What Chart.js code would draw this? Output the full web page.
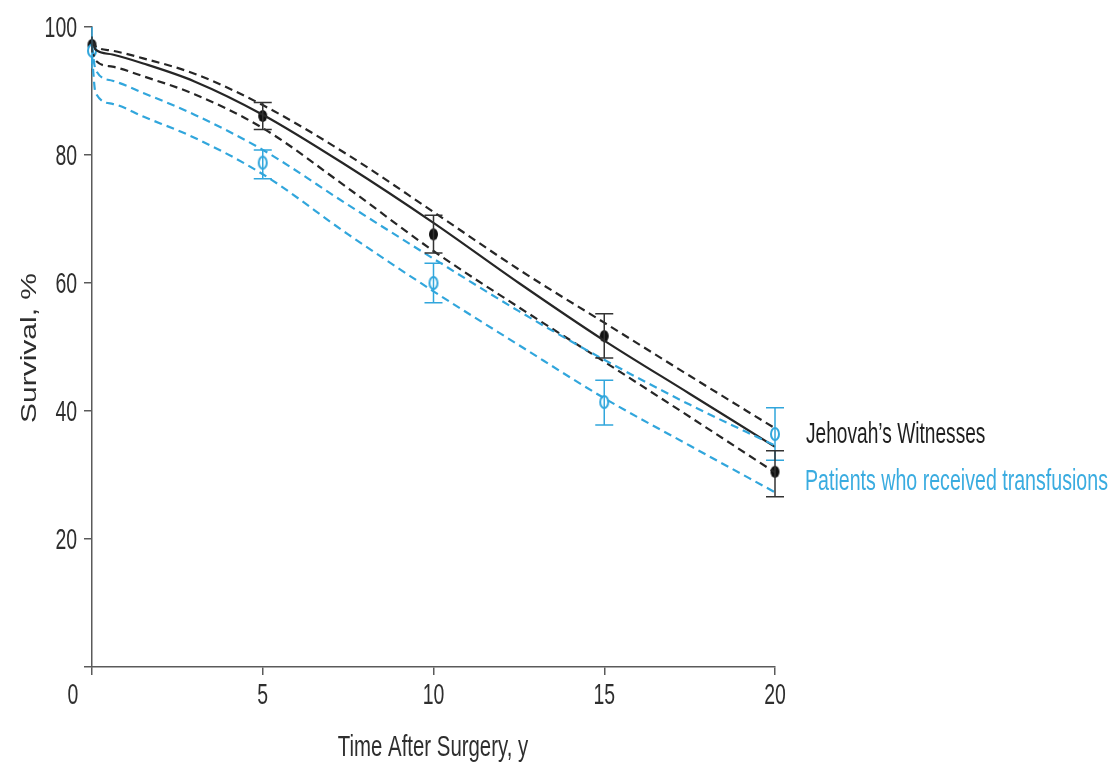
<!DOCTYPE html>
<html>
<head>
<meta charset="utf-8">
<script src="https://cdn.jsdelivr.net/npm/chart.js@4"></script>
<style>
  html, body { margin: 0; padding: 0; background: #fff; }
  #wrap { width: 1114px; height: 771px; position: relative; }
</style>
</head>
<body>
<div id="wrap"><canvas id="c" width="1114" height="771"></canvas></div>
<script>
// Observed survival at each follow-up year, with error-bar limits
const years = [0, 5, 10, 15, 20];
const jwSurvival = [97.2, 86.1, 67.6, 51.7, 30.5];
const jwLow      = [96.0, 84.0, 64.7, 48.3, 26.6];
const jwHigh     = [98.5, 88.2, 70.6, 55.2, 33.8];
const txSurvival = [96.3, 78.8, 60.0, 41.4, 36.4];
const txLow      = [93.5, 76.3, 56.9, 37.8, 32.3];
const txHigh     = [100,  80.8, 63.1, 44.8, 40.5];

// Fitted survival curves and their confidence bands
const curveYears = [0, 0.1, 0.6, 1.5, 3, 5, 7.5, 10, 12.5, 15, 17.5, 20];
const jwFit      = [97.5, 96.5, 95.7, 94.3, 91.5, 86.3, 78.2, 69.4, 60.0, 51.0, 42.7, 34.4];
const jwFitUpper = [97.9, 97.0, 96.3, 95.1, 92.7, 87.8, 80.0, 71.1, 62.1, 53.8, 45.5, 37.3];
const jwFitLower = [96.6, 94.8, 93.8, 92.3, 89.5, 84.2, 74.8, 65.0, 56.2, 47.7, 39.1, 30.4];
const txFitUpper = [97.0, 93.4, 91.6, 89.7, 86.3, 80.8, 72.2, 63.8, 55.6, 48.0, 41.0, 34.6];
const txFitLower = [95.5, 89.8, 88.0, 86.0, 82.7, 77.0, 67.6, 58.7, 50.3, 42.0, 34.6, 27.3];

const xTicks = [0, 5, 10, 15, 20];
const yTicks = [20, 40, 60, 80, 100];
const seriesNames = ["Jehovah\u2019s Witnesses", "Patients who received transfusions"];

const BLACK = '#262626';
const BLUE = '#31a6dc';
const AXIS = '#5a5a5a';
const FONT = '"Liberation Sans", Arial, sans-serif';

const pts = (xs, ys) => xs.map((x, i) => ({ x, y: ys[i] }));

// Oval marker sprites (slightly taller than wide)
function ovalMarker(w, h, fill, stroke, lw) {
  const c = document.createElement('canvas');
  c.width = w + 4; c.height = h + 4;
  const g = c.getContext('2d');
  g.beginPath();
  g.ellipse(c.width / 2, c.height / 2, w / 2, h / 2, 0, 0, Math.PI * 2);
  if (fill) { g.fillStyle = fill; g.fill(); }
  if (stroke) { g.strokeStyle = stroke; g.lineWidth = lw; g.stroke(); }
  return c;
}
const jwMarker = ovalMarker(9, 12, '#111111', null, 0);
const txMarker = ovalMarker(8, 12, '#ffffff', BLUE, 2);

function curve(data, color, dashed, width) {
  return {
    type: 'line', data, borderColor: color, borderWidth: width,
    borderDash: dashed ? [8, 5] : [], pointRadius: 0, fill: false,
    cubicInterpolationMode: 'monotone', clip: false
  };
}
function markers(data, sprite) {
  return {
    type: 'line', data, showLine: false, pointStyle: sprite,
    pointRadius: 6, clip: false
  };
}

// Error bars drawn from the low/high arrays through the chart's scales
const errorBars = {
  id: 'errorBars',
  afterDatasetsDraw(chart) {
    const { ctx, scales: { x, y } } = chart;
    const sets = [
      { lo: txLow, hi: txHigh, color: BLUE },
      { lo: jwLow, hi: jwHigh, color: '#333333' }
    ];
    ctx.save();
    sets.forEach(s => {
      ctx.strokeStyle = s.color;
      ctx.lineWidth = 1.5;
      years.forEach((yr, i) => {
        const px = x.getPixelForValue(yr);
        const p1 = y.getPixelForValue(s.lo[i]);
        const p2 = y.getPixelForValue(s.hi[i]);
        ctx.beginPath();
        ctx.moveTo(px, p1); ctx.lineTo(px, p2);
        if (yr > 0) {
          ctx.moveTo(px - 9, p1); ctx.lineTo(px + 9, p1);
          ctx.moveTo(px - 9, p2); ctx.lineTo(px + 9, p2);
        }
        ctx.stroke();
      });
    });
    ctx.restore();
  }
};

function drawText(ctx, str, x, y, size, color, align, sx) {
  ctx.save();
  ctx.font = size + 'px ' + FONT;
  ctx.fillStyle = color;
  ctx.textAlign = align;
  ctx.textBaseline = 'alphabetic';
  ctx.translate(x, y);
  ctx.scale(sx, 1);
  ctx.fillText(str, 0, 0);
  ctx.restore();
}

// Tick labels, axis titles and end-of-line series labels in a narrow face
const labels = {
  id: 'labels',
  afterDraw(chart) {
    const { ctx, scales: { x, y } } = chart;
    xTicks.forEach(v => {
      const px = v === 0 ? x.getPixelForValue(v) - 19 : x.getPixelForValue(v);
      drawText(ctx, String(v), px, 704, 29, '#2e2e2e', 'center', 0.67);
    });
    yTicks.forEach(v => {
      drawText(ctx, String(v), 77, y.getPixelForValue(v) + 10, 29, '#2e2e2e', 'right', 0.67);
    });
    drawText(ctx, 'Time After Surgery, y', 433, 756, 30, '#2e2e2e', 'center', 0.68);

    ctx.save();
    ctx.translate(36, 348);
    ctx.rotate(-Math.PI / 2);
    ctx.scale(1, 0.75);
    ctx.font = '30px ' + FONT;
    ctx.fillStyle = '#2e2e2e';
    ctx.textAlign = 'center';
    ctx.textBaseline = 'alphabetic';
    ctx.fillText('Survival, %', 0, 0);
    ctx.restore();

    drawText(ctx, seriesNames[0], 806, 443, 29, '#1e1e1e', 'left', 0.66);
    drawText(ctx, seriesNames[1], 805, 490, 29, '#3aace0', 'left', 0.676);
  }
};

new Chart(document.getElementById('c'), {
  type: 'line',
  data: {
    datasets: [
      curve(pts(curveYears, txFitUpper), BLUE, true, 2.2),
      curve(pts(curveYears, txFitLower), BLUE, true, 2.2),
      curve(pts(curveYears, jwFitUpper), BLACK, true, 2.2),
      curve(pts(curveYears, jwFitLower), BLACK, true, 2.2),
      curve(pts(curveYears, jwFit), BLACK, false, 2.2),
      markers(pts(years, txSurvival), txMarker),
      markers(pts(years, jwSurvival), jwMarker)
    ]
  },
  options: {
    responsive: false,
    animation: false,
    devicePixelRatio: 1,
    layout: { padding: { left: 92, right: 339, top: 27, bottom: 104 } },
    plugins: { legend: { display: false }, tooltip: { enabled: false } },
    scales: {
      x: {
        type: 'linear', min: 0, max: 20,
        ticks: { display: false, stepSize: 5 },
        grid: { drawOnChartArea: false, drawTicks: true, tickLength: 8, color: AXIS, lineWidth: 1.5 },
        border: { display: true, color: AXIS, width: 1.5 },
        afterFit(s) { s.height = 0; }
      },
      y: {
        type: 'linear', min: 0, max: 100,
        ticks: { display: false, stepSize: 20 },
        grid: { drawOnChartArea: false, drawTicks: true, tickLength: 8, color: AXIS, lineWidth: 1.5 },
        border: { display: true, color: AXIS, width: 1.5 },
        afterFit(s) { s.width = 0; }
      }
    }
  },
  plugins: [errorBars, labels]
});
</script>
</body>
</html>
